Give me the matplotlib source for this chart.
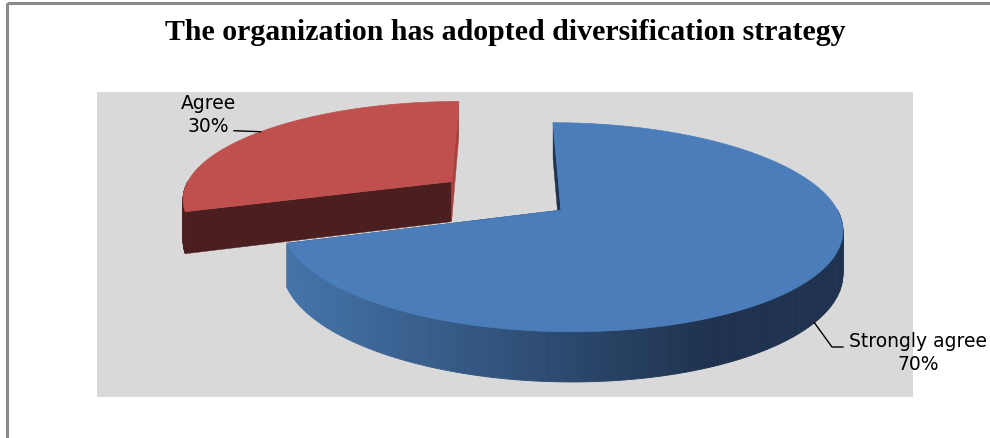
import matplotlib
matplotlib.use("Agg")
import matplotlib.pyplot as plt
from matplotlib.patches import Polygon, Rectangle
import matplotlib.colors as mcolors
import numpy as np

title = "The organization has adopted diversification strategy"
categories = ["Strongly agree", "Agree"]
percentages = [70, 30]

# per-slice colours: top face, curved side (left -> right), cut faces
slice_styles = [
    {"top": "#4a7dba", "side_l": "#4574aa", "side_r": "#1f3350",
     "cut_start": "#1f3350", "cut_end": "#1f3350"},
    {"top": "#c0504d", "side_l": "#4e1f1f", "side_r": "#4b1e1f",
     "cut_start": "#4b1e1f", "cut_end": "#a8423f"},
]

# pseudo-3D projection settings, in pixels
CX, CY = 505.0, 195.5
RX, RY = 270.0, 97.0
DEPTH = 41.0
PERSP = 0.16
EXPLODE = 0.25


def direction(phi):
    # phi in degrees, clockwise from 12 o'clock; y points toward the viewer
    r = np.radians(phi)
    return np.sin(r), -np.cos(r)


def project(x, y, z=0.0):
    k = 1.0 / (1.0 - PERSP * y)
    return CX + RX * x * k, CY + (RY * y + DEPTH * z) * k


fig = plt.figure(figsize=(9.9, 4.38), dpi=100)
ax = fig.add_axes([0, 0, 1, 1])
ax.set_xlim(0, 990)
ax.set_ylim(438, 0)
ax.axis("off")

# chart border and plot area
ax.plot([7, 7], [438, 3], color="#8a8a8a", lw=2.2, solid_capstyle="butt")
ax.plot([7, 990], [3, 3], color="#8a8a8a", lw=2.2, solid_capstyle="butt")
ax.add_patch(Rectangle((97, 92), 816, 305, facecolor="#d9d9d9", edgecolor="none"))

# build slices
slices = []
start = 0.0
for name, pct, style in zip(categories, percentages, slice_styles):
    end = start + 360.0 * pct / 100.0
    mid = (start + end) / 2.0
    dx, dy = direction(mid)
    slices.append({"name": name, "pct": pct, "start": start, "end": end, "mid": mid,
                   "cx": EXPLODE * dx, "cy": EXPLODE * dy, "style": style})
    start = end

# back slices first
for s in sorted(slices, key=lambda s: s["cy"]):
    st = s["style"]
    ox, oy = s["cx"], s["cy"]
    phis = np.linspace(s["start"], s["end"], 240)
    rim = [(ox + direction(p)[0], oy + direction(p)[1]) for p in phis]

    # radial cut faces
    for phi, col in ((s["start"], st["cut_start"]), (s["end"], st["cut_end"])):
        rx, ry = direction(phi)
        pts = [project(ox, oy, 0), project(ox + rx, oy + ry, 0),
               project(ox + rx, oy + ry, 1), project(ox, oy, 1)]
        ax.add_patch(Polygon(pts, closed=True, facecolor=col, edgecolor=col, lw=0.3))

    # curved outer side, only the part facing the viewer
    xs_all = [project(x, y)[0] for x, y in rim]
    xmin, xmax = min(xs_all), max(xs_all)
    cl = np.array(mcolors.to_rgb(st["side_l"]))
    cr = np.array(mcolors.to_rgb(st["side_r"]))
    for i in range(len(phis) - 1):
        if -np.cos(np.radians((phis[i] + phis[i + 1]) / 2)) <= 0:
            continue
        (x0, y0), (x1, y1) = rim[i], rim[i + 1]
        pts = [project(x0, y0, 0), project(x1, y1, 0), project(x1, y1, 1), project(x0, y0, 1)]
        frac = ((pts[0][0] + pts[1][0]) / 2 - xmin) / max(xmax - xmin, 1)
        t = min(max(frac / 0.75, 0.0), 1.0)
        col = cl * (1 - t) + cr * t
        ax.add_patch(Polygon(pts, closed=True, facecolor=col, edgecolor=col, lw=0.6))

    # top face
    top = [project(ox, oy)] + [project(x, y) for x, y in rim]
    ax.add_patch(Polygon(top, closed=True, facecolor=st["top"], edgecolor=st["top"], lw=0.5))

# data labels with leader lines
label_font = dict(family="DejaVu Sans", fontsize=13.5, color="black", ha="center",
                  va="center", linespacing=1.3)
for s in slices:
    dx, dy = direction(s["mid"])
    px, py = s["cx"] + dx, s["cy"] + dy
    text = f"{s['name']}\n{s['pct']}%"
    if s["cy"] < 0:
        ax_, ay_ = project(px, py, 0)
        ax.plot([ax_, 234], [ay_, ay_ - 1], color="black", lw=1.0)
        ax.text(208, 115, text, **label_font)
    else:
        ax_, ay_ = project(px, py, 1)
        ax.plot([ax_, 832, 843], [ay_, 347, 347], color="black", lw=1.0)
        ax.text(918, 353, text, **label_font)

ax.text(505, 33, title, family="Liberation Serif", fontweight="bold", fontsize=21.5,
        ha="center", va="center", color="black")

fig.savefig("out.png", dpi=100)
